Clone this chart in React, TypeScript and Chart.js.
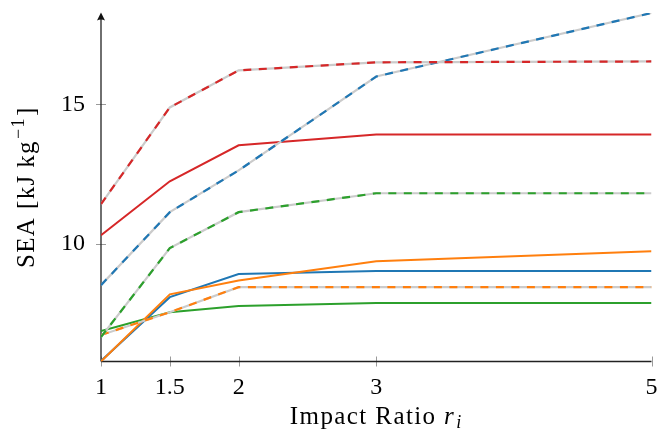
import React, { useEffect, useRef } from "react";
import { Chart, registerables } from "chart.js";

Chart.register(...registerables);

// ---- data ----
const impactRatios = [1, 1.5, 2, 3, 5];
const xTickValues = [1, 1.5, 2, 3, 5];
const yTickValues = [10, 15];

const blueSolid = [5.79, 8.08, 8.91, 9.02, 9.02];
const blueDashed = [8.51, 11.13, 12.63, 16.0, 18.28];
const orangeSolid = [5.77, 8.18, 8.68, 9.37, 9.73];
const orangeDashed = [6.72, 7.54, 8.44, 8.44, 8.44];
const greenSolid = [6.86, 7.54, 7.76, 7.87, 7.87];
const greenDashed = [6.65, 9.84, 11.13, 11.81, 11.81];
const redSolid = [10.3, 12.24, 13.53, 13.92, 13.92];
const redDashed = [11.42, 14.89, 16.22, 16.51, 16.54];

const xTitle = "Impact Ratio ";
const xTitleVar = "r";
const xTitleSub = "i";
const yTitleMain = "SEA [kJ\u2009kg";
const yTitleSup = "\u22121";
const yTitleEnd = "]";

const Y_MIN = 5.77;
const Y_MAX = 18.28;

const BLUE = "#1f77b4";
const ORANGE = "#ff7f0e";
const GREEN = "#2ca02c";
const RED = "#d62728";
const UNDER = "#cbcbcb";

const FONT = '"Liberation Serif", "DejaVu Serif", serif';
const FS_TICK = 24;
const FS = 25;
const LS = "1.4px";

type Series = { values: number[]; color: string; dashed: boolean };
// listed bottom-most first
const series: Series[] = [
  { values: greenSolid, color: GREEN, dashed: false },
  { values: blueSolid, color: BLUE, dashed: false },
  { values: orangeSolid, color: ORANGE, dashed: false },
  { values: redSolid, color: RED, dashed: false },
  { values: orangeDashed, color: ORANGE, dashed: true },
  { values: greenDashed, color: GREEN, dashed: true },
  { values: blueDashed, color: BLUE, dashed: true },
  { values: redDashed, color: RED, dashed: true },
];

const axesPlugin = {
  id: "customAxes",
  beforeDatasetsDraw(chart: any) {
    const { ctx, chartArea, scales } = chart;
    const x = scales.x;
    const y = scales.y;
    const left = chartArea.left;
    const bottom = chartArea.bottom;
    ctx.save();
    ctx.strokeStyle = "#9a9a9a";
    ctx.lineWidth = 1;
    for (const v of xTickValues) {
      const px = Math.round(x.getPixelForValue(v)) + 0.5;
      ctx.beginPath();
      ctx.moveTo(px, bottom - 5);
      ctx.lineTo(px, bottom + 5);
      ctx.stroke();
    }
    for (const v of yTickValues) {
      const py = Math.round(y.getPixelForValue(v)) + 0.5;
      ctx.beginPath();
      ctx.moveTo(left - 5, py);
      ctx.lineTo(left + 5, py);
      ctx.stroke();
    }
    ctx.strokeStyle = "#222";
    ctx.lineWidth = 1.3;
    ctx.beginPath();
    ctx.moveTo(left, bottom);
    ctx.lineTo(chartArea.right, bottom);
    ctx.stroke();
    ctx.beginPath();
    ctx.moveTo(left, bottom);
    ctx.lineTo(left, chartArea.top + 2);
    ctx.stroke();
    const tip = chartArea.top - 0.5;
    ctx.fillStyle = "#111";
    ctx.beginPath();
    ctx.moveTo(left, tip);
    ctx.lineTo(left - 4, tip + 8);
    ctx.quadraticCurveTo(left, tip + 6, left + 4, tip + 8);
    ctx.closePath();
    ctx.fill();
    ctx.restore();
  },
  afterDraw(chart: any) {
    const { ctx, chartArea } = chart;
    ctx.save();
    ctx.fillStyle = "#000";
    ctx.textBaseline = "alphabetic";
    ctx.textAlign = "left";
    try {
      (ctx as any).letterSpacing = LS;
    } catch (e) {}
    const subFs = Math.round(FS * 0.72);
    // x title
    ctx.font = `${FS}px ${FONT}`;
    const w1 = ctx.measureText(xTitle).width;
    ctx.font = `italic ${FS}px ${FONT}`;
    const w2 = ctx.measureText(xTitleVar).width;
    ctx.font = `italic ${subFs}px ${FONT}`;
    const w3 = ctx.measureText(xTitleSub).width;
    const total = w1 + w2 + w3 + 1;
    const cx = (chartArea.left + chartArea.right) / 2;
    let sx = cx - total / 2;
    const base = 424;
    ctx.font = `${FS}px ${FONT}`;
    ctx.fillText(xTitle, sx, base);
    sx += w1;
    ctx.font = `italic ${FS}px ${FONT}`;
    ctx.fillText(xTitleVar, sx, base);
    sx += w2 + 1;
    ctx.font = `italic ${subFs}px ${FONT}`;
    ctx.fillText(xTitleSub, sx, base + 4);

    // y title (rotated)
    const cy = (chartArea.top + chartArea.bottom) / 2;
    ctx.translate(34, cy);
    ctx.rotate(-Math.PI / 2);
    ctx.font = `${FS}px ${FONT}`;
    const a = ctx.measureText(yTitleMain).width;
    ctx.font = `${subFs}px ${FONT}`;
    const b = ctx.measureText(yTitleSup).width;
    ctx.font = `${FS}px ${FONT}`;
    const c = ctx.measureText(yTitleEnd).width;
    const tw = a + b + c + 2;
    let tx = -tw / 2;
    ctx.fillText(yTitleMain, tx, 0);
    tx += a + 1;
    ctx.font = `${subFs}px ${FONT}`;
    ctx.fillText(yTitleSup, tx, -10);
    tx += b + 1;
    ctx.font = `${FS}px ${FONT}`;
    ctx.fillText(yTitleEnd, tx, 0);
    ctx.restore();
  },
};

function zeroPad(s: any) {
  s.paddingTop = 0;
  s.paddingBottom = 0;
  s.paddingLeft = 0;
  s.paddingRight = 0;
}

export default function App() {
  const ref = useRef<HTMLCanvasElement | null>(null);
  useEffect(() => {
    document.body.style.margin = "0";
    if (!ref.current) return;
    const layered: any[] = [];
    for (const s of series) {
      const data = impactRatios.map((r, i) => ({ x: r, y: s.values[i] }));
      if (s.dashed) {
        layered.push({
          data,
          borderColor: UNDER,
          borderWidth: 2.2,
          pointRadius: 0,
          tension: 0,
          fill: false,
        });
        layered.push({
          data,
          borderColor: s.color,
          borderWidth: 2.2,
          borderDash: [8, 7.5],
          pointRadius: 0,
          tension: 0,
          fill: false,
        });
      } else {
        layered.push({
          data,
          borderColor: s.color,
          borderWidth: 2,
          pointRadius: 0,
          tension: 0,
          fill: false,
        });
      }
    }
    // Chart.js draws dataset 0 last (on top), so reverse
    const datasets = layered.reverse();
    const chart = new Chart(ref.current, {
      type: "line",
      data: { datasets },
      plugins: [axesPlugin],
      options: {
        responsive: false,
        animation: false,
        layout: { padding: { left: 0, right: 5.5, top: 13, bottom: 0 } },
        plugins: { legend: { display: false }, tooltip: { enabled: false } },
        scales: {
          x: {
            type: "linear",
            min: 1,
            max: 5,
            grid: { display: false, drawTicks: false },
            border: { display: false },
            afterBuildTicks: (s: any) => {
              s.ticks = xTickValues.map((v) => ({ value: v }));
            },
            afterFit: (s: any) => {
              s.height = 435 - 361.5;
              zeroPad(s);
            },
            ticks: {
              autoSkip: false,
              maxRotation: 0,
              padding: 12,
              color: "#000",
              font: { family: FONT, size: FS_TICK },
              callback: (v: any) => String(v),
            },
          },
          y: {
            type: "linear",
            min: Y_MIN,
            max: Y_MAX,
            grid: { display: false, drawTicks: false },
            border: { display: false },
            afterBuildTicks: (s: any) => {
              s.ticks = yTickValues.map((v) => ({ value: v }));
            },
            afterFit: (s: any) => {
              s.width = 101;
              zeroPad(s);
            },
            ticks: {
              padding: 16,
              color: "#000",
              font: { family: FONT, size: FS_TICK },
              callback: (v: any) => String(v),
            },
          },
        },
      },
    });
    return () => chart.destroy();
  }, []);
  return (
    <div style={{ width: 657, height: 435, position: "relative" }}>
      <canvas ref={ref} width={657} height={435} />
    </div>
  );
}
